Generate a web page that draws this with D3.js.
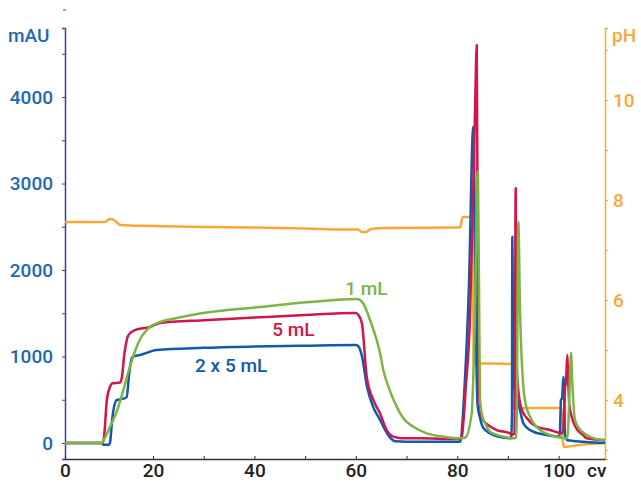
<!DOCTYPE html>
<html>
<head>
<meta charset="utf-8">
<script src="https://cdn.jsdelivr.net/npm/d3@7"></script>
<style>
  body { margin: 0; background: #fff; }
  text { font-family: Roboto, "Liberation Sans", Arial, sans-serif; font-weight: 500; }
</style>
</head>
<body>
<div id="chart"></div>
<script>
// chart size and plot area
var width = 641,
    height = 481,
    margin = {top: 28, right: 36, bottom: 22, left: 65};

// UV traces, [cv, mAU]
const trace2x5 = [[2.64,0],[10.0,0],[10.2,-20],[11.3,-20],[11.5,0],[12.0,300],[12.84,497],[14.0,510],[14.8,530],
  [15.3,800],[15.8,980],[16.1,1000],[17.4,1017],[20.7,1075],[30,1100],[40,1115],[50,1125],[60.0,1133],[60.6,1110],
  [61.22,1000],[62.21,650],[63.39,420],[64.77,270],[65.8,150],[66.8,60],[67.8,20],[70,15],[80.55,15],[80.75,50],
  [81.34,535],[82.3,1800],[83.17,3657],[83.5,2400],[83.8,900],[84.0,450],[84.5,289],[85.09,180],[86.5,110],
  [88.0,75],[90.6,54],[90.8,300],[90.87,2385],[90.95,1800],[91.07,900],[91.4,600],[92.0,480],[92.5,350],
  [93.04,228],[95.01,131],[97.65,92],[100.2,73],[100.35,300],[100.45,497],[100.7,520],[100.93,766],[101.05,700],
  [101.26,100],[101.6,35],[104.81,15],[108.76,3],[109.15,3]];

const trace5 = [[2.64,0],[10.0,0],[10.3,50],[10.9,500],[11.52,651],[12.0,690],[13.5,700],[13.83,750],[14.4,1050],
  [15.14,1248],[16.4,1306],[19.41,1341],[21.38,1387],[30,1420],[40,1450],[50,1480],[60.0,1503],[60.5,1480],
  [61.2,1385],[62.15,766],[63.45,497],[64.77,343],[66.09,150],[67.4,73],[69,55],[72.66,54],[80.55,46],[80.89,70],
  [81.68,636],[82.5,1400],[83.5,3800],[83.85,4601],[84.0,2800],[84.12,1200],[84.3,600],[84.6,380],[85.09,266],
  [86.3,200],[87.79,150],[90.41,112],[90.65,95],[91.3,110],[91.54,2944],[91.62,1600],[91.8,800],[92.39,462],
  [93.0,350],[93.71,290],[95.68,188],[98.3,150],[100.61,112],[100.9,140],[101.1,400],[101.26,636],[101.45,700],
  [101.72,1017],[101.85,800],[102.1,450],[102.58,304],[103.2,200],[104.81,92],[105.54,54],[108.76,35],[109.15,35]];

const trace1 = [[2.64,0],[9.88,0],[10.5,60],[11.52,188],[12.84,362],[14.15,613],[15.46,882],[16.78,1113],
  [17.44,1200],[18.76,1306],[19.41,1341],[21.38,1399],[24.73,1445],[29.86,1503],[41.1,1572],[50.97,1630],
  [60.24,1665],[60.9,1650],[61.42,1618],[62.8,1422],[64.77,1040],[65.42,844],[66.75,600],[68.07,420],[69.37,286],
  [71.34,188],[73.99,112],[77.26,73],[80.55,54],[81.54,60],[82.86,347],[83.5,1500],[84.04,3136],[84.3,1800],
  [84.5,500],[85.0,300],[85.48,231],[86.47,130],[89.09,73],[91.07,54],[91.6,60],[91.74,300],[92.05,2558],
  [92.4,1500],[93.04,651],[93.5,450],[94.4,300],[96.33,150],[99.63,73],[101.6,54],[101.8,100],[102.1,500],
  [102.45,1044],[102.7,700],[103.23,266],[104.3,150],[105.54,92],[108.76,35],[109.15,35]];

// pH trace, [cv, pH]
const tracePh = [[2.64,7.56],[10.5,7.56],[11.5,7.62],[12.3,7.6],[13,7.54],[13.6,7.5],[20,7.48],[30,7.46],
  [40,7.45],[50,7.43],[58,7.41],[60.5,7.41],[61.2,7.36],[62,7.36],[63,7.42],[66,7.44],[80,7.45],[80.6,7.46],
  [81,7.64],[81.3,7.66],[82.8,7.66],[83,7.6],[83.3,4.74],[90.8,4.72],[91,3.84],[100.5,3.84],[100.8,3.2],
  [101.1,3.06],[104,3.1],[109.2,3.14]];

// axis ticks
const mauTicks = [0, 500, 1000, 1500, 2000, 2500, 3000, 3500, 4000, 4500];
const phTicks = [3, 4, 5, 6, 7, 8, 9, 10, 11];
const cvTicks = [20, 30, 40, 50, 60, 70, 80, 90, 100];

// series labels [text, cv, mAU]
const seriesLabels = [["1 mL", 57.9, 1711], ["5 mL", 43.5, 1237], ["2 x 5 mL", 28.3, 821]];

const colBlue = "#0d5cab", colRed = "#d3154c", colGreen = "#7db544", colOrange = "#f8a836";

var svg = d3.select("#chart")
  .append("svg")
    .attr("width", width)
    .attr("height", height);

const x = d3.scaleLinear().domain([2.64, 109.15]).range([margin.left, width - margin.right]);
const y = d3.scaleLinear().domain([-185, 4798]).range([height - margin.bottom, margin.top]);
const yPh = d3.scaleLinear().domain([2.82, 11.44]).range([height - margin.bottom, margin.top]);

// left axis (mAU)
const gLeft = svg.append("g")
  .attr("transform", `translate(${margin.left},0)`)
  .call(d3.axisLeft(y).tickValues(mauTicks).tickSize(3).tickPadding(9)
    .tickFormat(d => d % 1000 === 0 ? d : ""));
gLeft.select(".domain").attr("stroke", "#3d3d94").attr("stroke-width", 1.5);
gLeft.selectAll(".tick line").attr("stroke", "#3d3d94");
gLeft.selectAll("text").attr("fill", "#1b69b2").style("font-size", "19px");

// right axis (pH)
const gRight = svg.append("g")
  .attr("transform", `translate(${width - margin.right},0)`)
  .call(d3.axisRight(yPh).tickValues(phTicks).tickSize(3).tickPadding(5)
    .tickFormat(d => (d % 2 === 0) ? d : ""));
gRight.select(".domain").attr("stroke", colOrange).attr("stroke-width", 1.5);
gRight.selectAll(".tick line").attr("stroke", colOrange);
gRight.selectAll("text").attr("fill", colOrange).style("font-size", "19px");

// bottom axis (cv)
const gBottom = svg.append("g")
  .attr("transform", `translate(0,${height - margin.bottom})`)
  .call(d3.axisBottom(x).tickValues([x.domain()[0]].concat(cvTicks)).tickSizeInner(-3).tickSizeOuter(0).tickPadding(5)
    .tickFormat(d => d < 10 ? "0" : (d % 20 === 0 ? d : "")));
gBottom.select(".domain").attr("stroke", "#333").attr("stroke-width", 1.5);
gBottom.selectAll(".tick line").attr("stroke", "#333");
gBottom.selectAll("text").attr("fill", "#222").style("font-size", "19px");

// axis titles
svg.append("text").attr("x", 8).attr("y", 42).text("mAU")
  .attr("fill", "#1b69b2").style("font-size", "19px");
svg.append("text").attr("x", 612).attr("y", 42).text("pH")
  .attr("fill", colOrange).style("font-size", "19px");
svg.append("text").attr("x", 587).attr("y", 477).text("cv")
  .attr("fill", "#222").style("font-size", "19px");

// stray tick above the left axis
svg.append("line").attr("x1", margin.left - 2).attr("x2", margin.left + 1)
  .attr("y1", 10).attr("y2", 10).attr("stroke", "#3d3d94");

// traces
const line = d3.line()
  .x(d => x(d[0]))
  .y(d => y(d[1]))
  .curve(d3.curveMonotoneX);
const linePh = d3.line()
  .x(d => x(d[0]))
  .y(d => yPh(d[1]))
  .curve(d3.curveMonotoneX);

svg.append("path").datum(tracePh).attr("d", linePh)
  .attr("fill", "none").attr("stroke", colOrange).attr("stroke-width", 2.5);

[[trace2x5, colBlue], [trace5, colRed], [trace1, colGreen]].forEach(function(s) {
  svg.append("path").datum(s[0]).attr("d", line)
    .attr("fill", "none").attr("stroke", s[1]).attr("stroke-width", 2.5)
    .attr("stroke-linejoin", "round");
});

// series labels
const labelColors = [colGreen, colRed, colBlue];
svg.selectAll("text.series")
  .data(seriesLabels)
  .join("text")
    .attr("class", "series")
    .attr("x", d => x(d[1]))
    .attr("y", d => y(d[2]))
    .text(d => d[0])
    .attr("fill", (d, i) => labelColors[i])
    .style("font-size", "19px");
</script>
</body>
</html>
